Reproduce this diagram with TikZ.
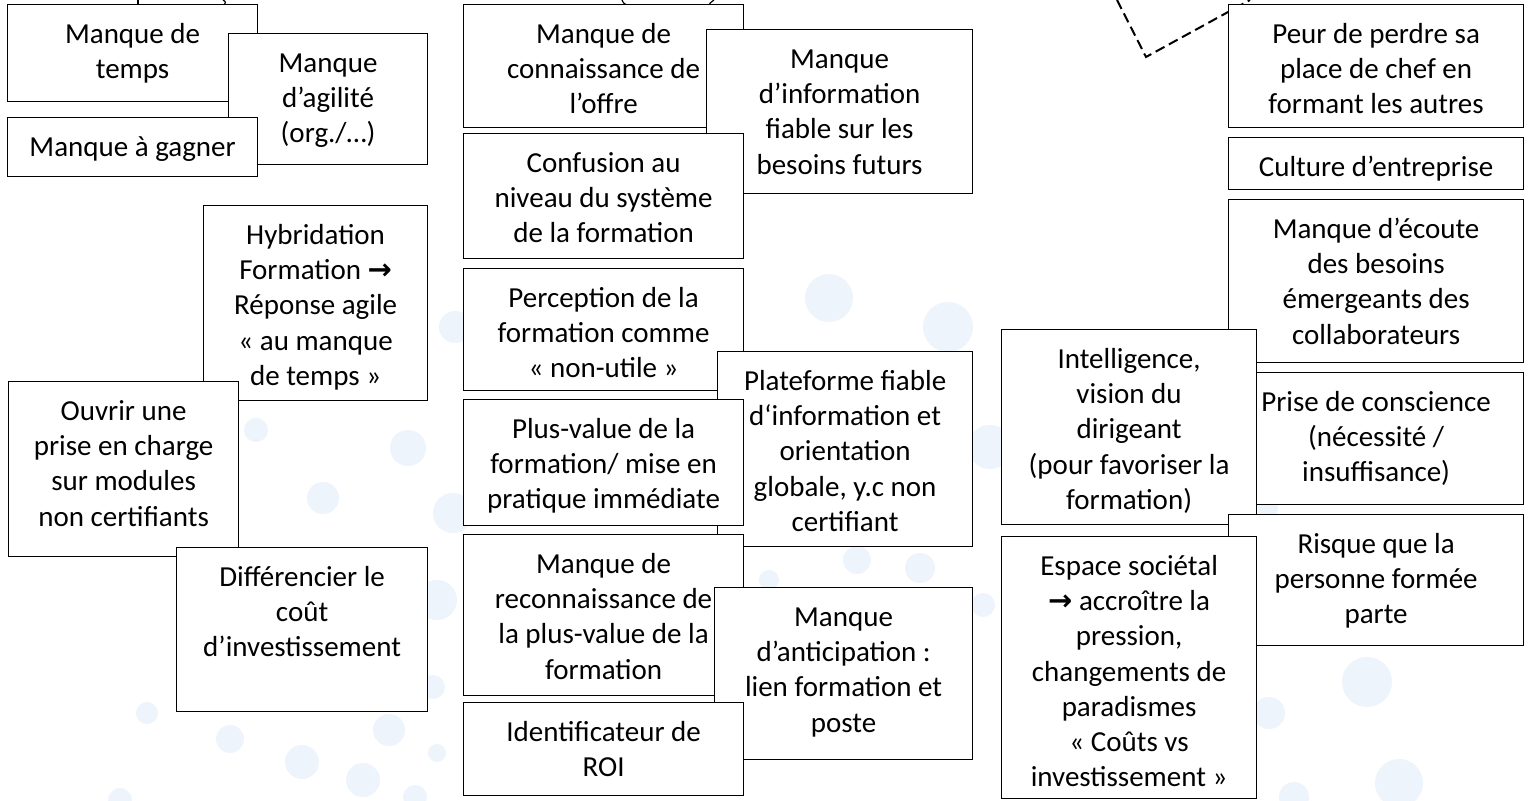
\documentclass[tikz,border=0pt]{standalone}
\usepackage{fontspec}
\setmainfont{Carlito}
\newfontfamily\arrowglyph{DejaVu Sans}
\definecolor{dotblue}{RGB}{238,244,251}
\newcommand{\cardtext}[3]{\parbox[t][#2][t]{#1}{\centering\rule{0pt}{19.5pt}#3}}

\begin{document}
\begin{tikzpicture}[
  x=0.5pt, y=-0.5pt,
  card/.style={draw, fill=white, line width=0.6pt, anchor=north west, inner sep=0pt, font=\fontsize{14.5}{17.6}\selectfont},
  bg dot/.style={fill=dotblue, draw=none},
  cut edge/.style={draw, line width=1pt, dash pattern=on 5pt off 2.5pt},
  cut end/.style={draw, line width=0.6pt}
]
\path[use as bounding box, fill=white] (0,0) rectangle (1528,801);
% Background dots
\foreach \cx/\cy/\r in {256/430/12, 408/448/18, 323/498/16, 453/513/20, 455/327/16,
  147/713/11, 230/739/14, 302/762/17, 389/730/16, 437/753/9, 363/780/17, 415/797/12,
  120/800/12, 437/600/20, 433/687/12, 829/298/24, 948/327/25, 990/447/22, 920/568/15,
  769/580/10, 983/605/12, 857/560/14, 1367/682/25, 1269/713/16, 1399/783/24,
  1294/797/15, 1268/508/10}
  \fill[bg dot] (\cx,\cy) circle[radius=\r];
% Cut-off pieces at the top
\path[cut edge] (1117,0) -- (1146,57) -- (1250,0);
\path[cut end] (138,0) -- (138,4);
\path[cut end] (223,0) .. controls (226,2) .. (224,5);
\path[cut end] (622,0) .. controls (624,4) .. (628,5);
\path[cut end] (714,0) .. controls (710,3) .. (709,5);
% Define the nodes
\node[card] (temps) at (7,4) {\cardtext{125pt}{48.5pt}{Manque de\\temps}};
\node[card] (agilite) at (228,33) {\cardtext{99.5pt}{65.5pt}{Manque\\d’agilité\\(org./…)}};
\node[card] (gagner) at (7,117) {\cardtext{125pt}{29.5pt}{Manque à gagner}};
\node[card] (hybrid) at (203,205) {\cardtext{112pt}{97.5pt}{Hybridation\\Formation {\arrowglyph\bfseries →}\\Réponse agile\\« au manque\\de temps »}};
\node[card] (ouvrir) at (8,381) {\cardtext{115pt}{87.5pt}{Ouvrir une\\prise en charge\\sur modules\\non certifiants}};
\node[card] (differencier) at (176,547) {\cardtext{125.5pt}{82pt}{Différencier le\\coût\\d’investissement}};
\node[card] (connaissance) at (463,4) {\cardtext{140pt}{61.5pt}{Manque de\\connaissance de\\l’offre}};
\node[card] (information) at (706,29) {\cardtext{133pt}{82pt}{Manque\\d’information\\fiable sur les\\besoins futurs}};
\node[card] (confusion) at (463,133) {\cardtext{140pt}{62.5pt}{Confusion au\\niveau du système\\de la formation}};
\node[card] (perception) at (463,268) {\cardtext{140pt}{61pt}{Perception de la\\formation comme\\« non-utile »}};
\node[card] (plateforme) at (717,351) {\cardtext{127.5pt}{97.5pt}{Plateforme fiable\\d‘information et\\orientation\\globale, y.c non\\certifiant}};
\node[card] (plusvalue) at (463,399) {\cardtext{140pt}{63pt}{Plus-value de la\\formation/ mise en\\pratique immédiate}};
\node[card] (reconnaissance) at (463,534) {\cardtext{140pt}{80.5pt}{Manque de\\reconnaissance de\\la plus-value de la\\formation}};
\node[card] (anticipation) at (714,587) {\cardtext{129pt}{86pt}{Manque\\d’anticipation :\\lien formation et\\poste}};
\node[card] (roi) at (463,702) {\cardtext{140pt}{46.5pt}{Identificateur de\\ROI}};
\node[card] (peur) at (1228,4) {\cardtext{147.5pt}{61.5pt}{Peur de perdre sa\\place de chef en\\formant les autres}};
\node[card] (culture) at (1228,137) {\cardtext{147.5pt}{26pt}{Culture d’entreprise}};
\node[card] (ecoute) at (1228,199) {\cardtext{147.5pt}{81.5pt}{Manque d’écoute\\des besoins\\émergeants des\\collaborateurs}};
\node[card] (prise) at (1228,372) {\cardtext{147.5pt}{66pt}{Prise de conscience\\(nécessité /\\insuffisance)}};
\node[card] (intelligence) at (1001,329) {\cardtext{127.5pt}{97.5pt}{Intelligence,\\vision du\\dirigeant\\(pour favoriser la\\formation)}};
\node[card] (risque) at (1228,514) {\cardtext{147.5pt}{65.5pt}{Risque que la\\personne formée\\parte}};
\node[card] (espace) at (1001,536) {\cardtext{127.5pt}{131pt}{Espace sociétal\\{\arrowglyph\bfseries →} accroître la\\pression,\\changements de\\paradismes\\« Coûts vs\\investissement »}};
\end{tikzpicture}
\end{document}
